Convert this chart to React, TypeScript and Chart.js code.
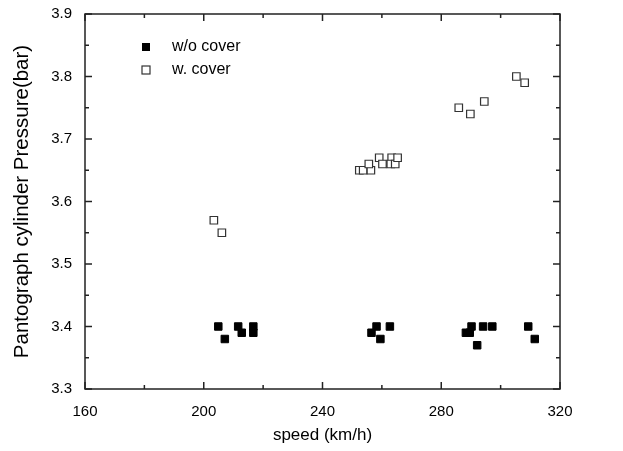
import React, { useEffect, useRef } from 'react';
import { Chart, registerables } from 'chart.js';

Chart.register(...registerables);

// ---- data ----
const seriesLabels = ['w/o cover', 'w. cover'];

const withoutCoverSpeed = [204.9, 207.1, 211.6, 212.8, 216.7, 216.7, 256.5, 258.2, 259.5, 262.7, 288.3, 289.6, 290.2, 292.1, 294.1, 297.2, 309.3, 311.5];
const withoutCoverPressure = [3.40, 3.38, 3.40, 3.39, 3.40, 3.39, 3.39, 3.40, 3.38, 3.40, 3.39, 3.39, 3.40, 3.37, 3.40, 3.40, 3.40, 3.38];

const withCoverSpeed = [203.4, 206.1, 252.4, 253.7, 256.3, 255.6, 259.1, 260.2, 263.3, 263.0, 264.5, 265.3, 285.9, 289.8, 294.5, 305.3, 308.1];
const withCoverPressure = [3.57, 3.55, 3.65, 3.65, 3.65, 3.66, 3.67, 3.66, 3.67, 3.66, 3.66, 3.67, 3.75, 3.74, 3.76, 3.80, 3.79];

const xTickValues = [160, 200, 240, 280, 320];
const yTickValues = [3.3, 3.4, 3.5, 3.6, 3.7, 3.8, 3.9];

const xTitle = 'speed (km/h)';
const yTitle = 'Pantograph cylinder Pressure(bar)';

const FONT = "'Liberation Sans', Arial, sans-serif";
const AXIS_COLOR = '#222';

function toPoints(xs: number[], ys: number[]) {
  return xs.map((x, i) => ({ x, y: ys[i] }));
}

const framePlugin = {
  id: 'originFrame',
  afterDraw(chart: any) {
    const { ctx, chartArea } = chart;
    const { left, right, top, bottom } = chartArea;
    const xs = chart.scales.x;
    const ys = chart.scales.y;
    ctx.save();
    ctx.strokeStyle = AXIS_COLOR;
    ctx.lineWidth = 1.5;
    ctx.strokeRect(left, top, right - left, bottom - top);
    const line = (x1: number, y1: number, x2: number, y2: number) => {
      ctx.beginPath();
      ctx.moveTo(x1, y1);
      ctx.lineTo(x2, y2);
      ctx.stroke();
    };
    const major = 7;
    const minor = 4;
    xTickValues.forEach((v, i) => {
      const px = xs.getPixelForValue(v);
      line(px, bottom, px, bottom - major);
      line(px, top, px, top + major);
      if (i < xTickValues.length - 1) {
        const mx = xs.getPixelForValue((v + xTickValues[i + 1]) / 2);
        line(mx, bottom, mx, bottom - minor);
        line(mx, top, mx, top + minor);
      }
    });
    yTickValues.forEach((v, i) => {
      const py = ys.getPixelForValue(v);
      line(left, py, left + major, py);
      line(right, py, right - major, py);
      if (i < yTickValues.length - 1) {
        const my = ys.getPixelForValue((v + yTickValues[i + 1]) / 2);
        line(left, my, left + minor, my);
        line(right, my, right - minor, my);
      }
    });

    // legend
    const lx = left + 61;
    const ly = top + 33;
    const gap = 23;
    const s = 8;
    ctx.fillStyle = '#000';
    ctx.fillRect(lx - s / 2, ly - s / 2, s, s);
    ctx.fillStyle = '#fff';
    ctx.fillRect(lx - s / 2, ly + gap - s / 2, s, s);
    ctx.strokeStyle = '#333';
    ctx.lineWidth = 1.2;
    ctx.strokeRect(lx - s / 2, ly + gap - s / 2, s, s);
    ctx.fillStyle = '#000';
    ctx.font = `16px ${FONT}`;
    ctx.textBaseline = 'middle';
    ctx.textAlign = 'left';
    ctx.fillText(seriesLabels[0], lx + 26, ly);
    ctx.fillText(seriesLabels[1], lx + 26, ly + gap);
    ctx.restore();
  },
};

export default function App() {
  const canvasRef = useRef<HTMLCanvasElement | null>(null);

  useEffect(() => {
    if (!canvasRef.current) return;
    const chart = new Chart(canvasRef.current, {
      type: 'scatter',
      data: {
        datasets: [
          {
            label: seriesLabels[0],
            data: toPoints(withoutCoverSpeed, withoutCoverPressure),
            pointStyle: 'rect',
            pointRadius: 5.3,
            backgroundColor: '#000',
            borderColor: '#000',
            borderWidth: 1,
          },
          {
            label: seriesLabels[1],
            data: toPoints(withCoverSpeed, withCoverPressure),
            pointStyle: 'rect',
            pointRadius: 5.3,
            backgroundColor: '#fff',
            borderColor: '#333',
            borderWidth: 1.2,
          },
        ],
      },
      options: {
        responsive: false,
        animation: false,
        layout: { padding: { top: 14, right: 63, left: 0, bottom: 0 } },
        plugins: {
          legend: { display: false },
          tooltip: { enabled: false },
        },
        scales: {
          x: {
            type: 'linear',
            min: xTickValues[0],
            max: xTickValues[xTickValues.length - 1],
            afterBuildTicks: (scale: any) => {
              scale.ticks = xTickValues.map((v) => ({ value: v }));
            },
            ticks: {
              color: '#000',
              font: { family: FONT, size: 15 },
              padding: 6,
              maxRotation: 0,
            },
            grid: { display: false },
            border: { display: false },
            title: {
              display: true,
              text: xTitle,
              color: '#000',
              font: { family: FONT, size: 17 },
              padding: { top: 0, bottom: 5 },
            },
            afterFit: (scale: any) => {
              scale.height = 62;
            },
          },
          y: {
            type: 'linear',
            min: yTickValues[0],
            max: yTickValues[yTickValues.length - 1],
            afterBuildTicks: (scale: any) => {
              scale.ticks = yTickValues.map((v) => ({ value: v }));
            },
            ticks: {
              color: '#000',
              font: { family: FONT, size: 15 },
              padding: 5,
              callback: (v: any) => Number(v).toFixed(1),
            },
            grid: { display: false },
            border: { display: false },
            title: {
              display: true,
              text: yTitle,
              color: '#000',
              font: { family: FONT, size: 20.5 },
              padding: { top: 10, bottom: 0 },
            },
            afterFit: (scale: any) => {
              scale.width = 85;
            },
          },
        },
      },
      plugins: [framePlugin],
    });
    return () => chart.destroy();
  }, []);

  return (
    <canvas
      ref={canvasRef}
      width={623}
      height={451}
      style={{ position: 'absolute', left: 0, top: 0, display: 'block', background: '#fff' }}
    />
  );
}
